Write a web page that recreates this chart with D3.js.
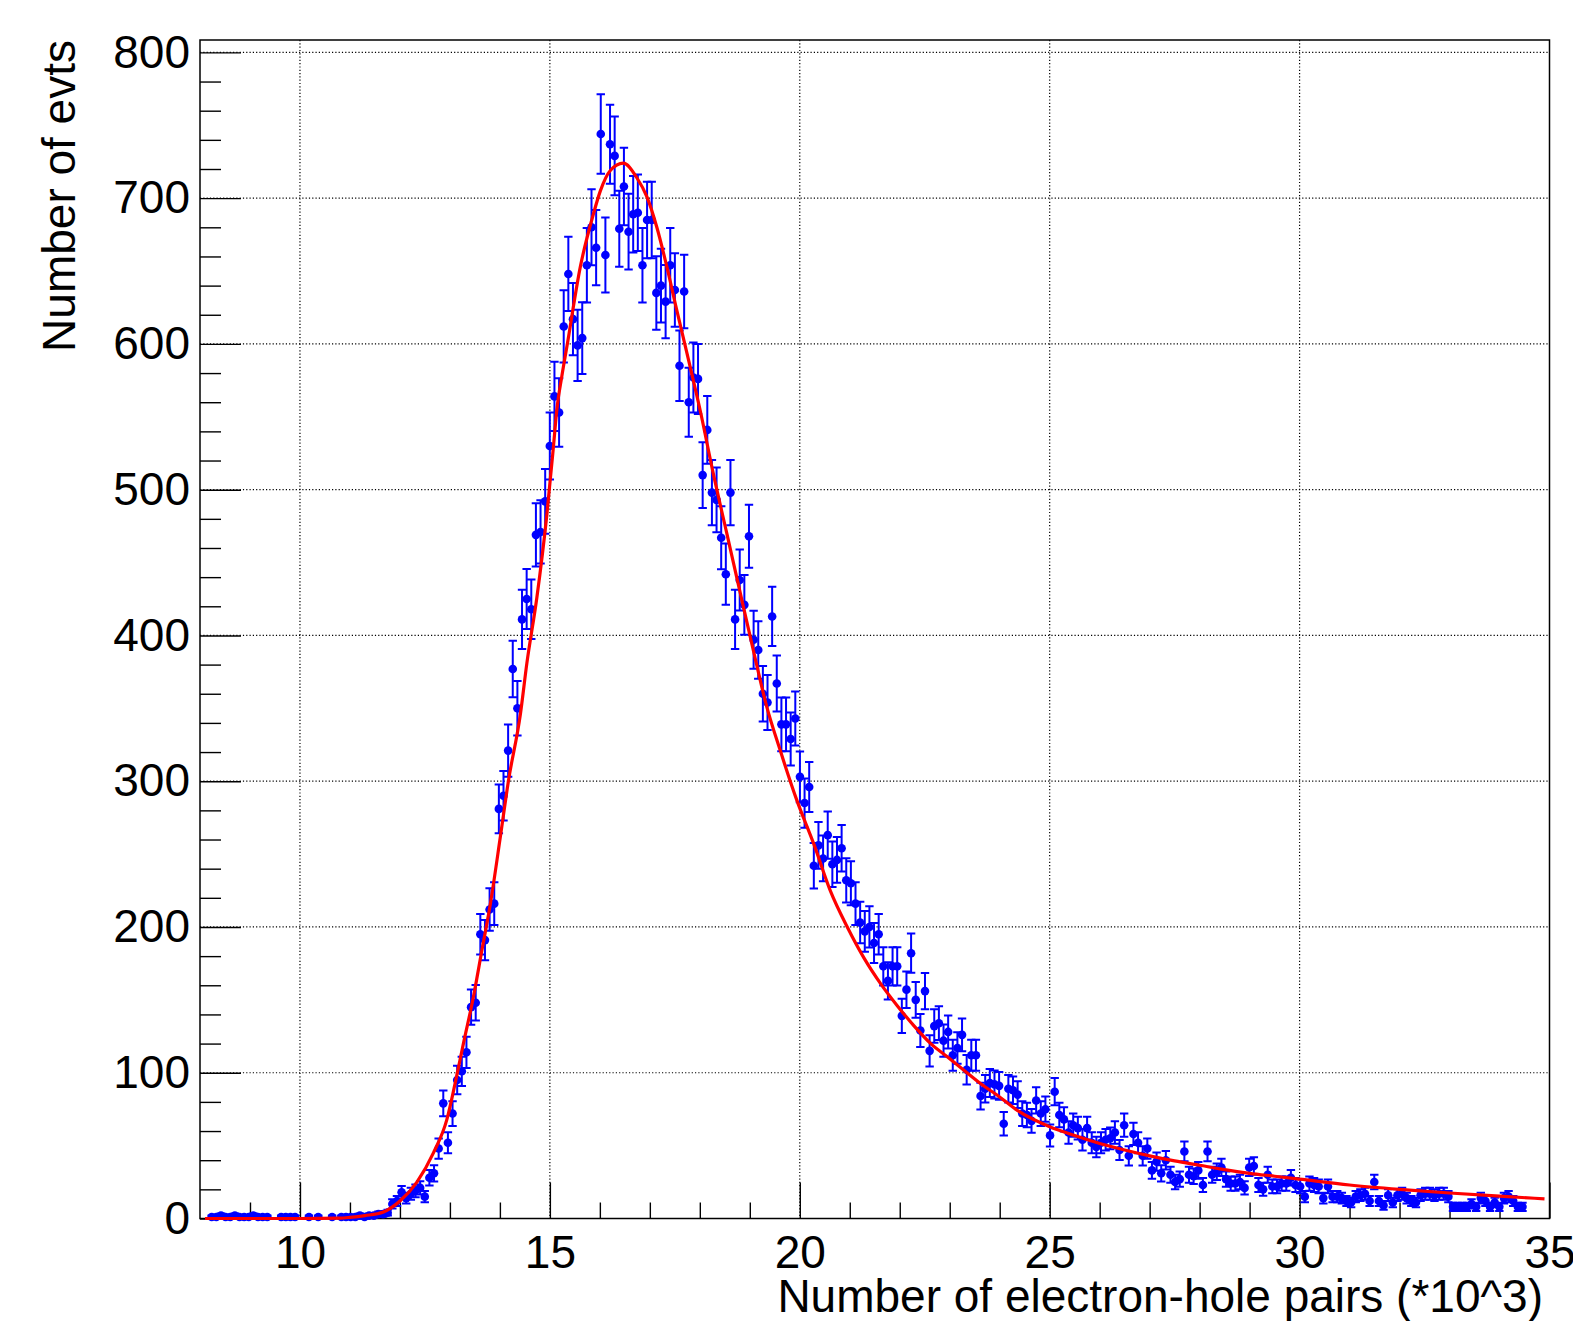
<!DOCTYPE html>
<html>
<head>
<meta charset="utf-8">
<title>Number of electron-hole pairs</title>
<style>
body { margin: 0; background: white; }
svg text { font-family: "Liberation Sans", Arial, Helvetica, sans-serif; fill: #000; }
.grid line { stroke: #000; stroke-width: 1.2; stroke-dasharray: 1.2, 2.1; }
.axis path { display: none; }
.axis line { stroke: #000; stroke-width: 1.4; }
</style>
</head>
<body>
<svg id="chart" width="1573" height="1321"></svg>
<script src="https://d3js.org/d3.v7.min.js"></script>
<script>
// histogram bins: centre of first bin and bin width, in units of 10^3 pairs
var binStart = 8.234;
var binWidth = 0.09267;

// number of events per bin
var counts = [
    1, 1, 2, 1, 1, 2, 1, 1, 1, 2, 1, 1, 1,
    0, 0, 1, 1, 1, 1, 0, 0, 1, 0, 1, 0, 0, 1, 0, 1,
    1, 1, 1, 2, 1, 2, 2, 3, 3,
    4, 10, 12, 18, 14, 17, 19, 21, 15, 28, 31, 48, 79, 52, 72, 95, 101, 114, 145, 148,
    195, 191, 212, 216, 281, 290, 321, 377, 350, 411, 425, 418, 469, 471, 492, 530, 564, 553, 612, 648,
    617, 599, 604, 654, 680, 666, 744, 661, 737, 729, 679, 708, 677, 689, 690, 654, 685, 685, 635, 640,
    629, 654, 637, 585, 636, 560, 577, 576, 510, 541, 498, 493, 467, 442, 498, 411, 438, 421, 468, 397,
    390, 360, 354, 413, 367, 339, 339, 329, 343, 303, 285, 296, 242, 256, 247, 263, 243, 246, 254, 232,
    230, 216, 203, 197, 200, 189, 195, 173, 163, 173, 173, 139, 157, 182, 150, 129, 156, 115, 132, 134,
    122, 128, 112, 117, 126, 102, 112, 112, 84, 89, 93, 92, 91, 65, 89, 88, 85, 72, 71, 67,
    81, 72, 75, 57, 87, 71, 68, 59, 64, 62, 54, 62, 52, 49, 52, 54, 55, 59, 47, 64,
    43, 58, 52, 43, 48, 33, 39, 31, 40, 30, 25, 27, 46, 30, 29, 33, 23, 46, 30, 32,
    35, 27, 24, 24, 25, 21, 35, 36, 23, 20, 30, 22, 22, 24, 24, 28, 23, 22, 15,
    24, 23, 22, 14, 22, 15, 15, 14, 12, 11, 15, 16, 17, 12, 25, 12, 9, 16, 11, 16,
    17, 14, 12, 11, 16, 17, 17, 16, 17, 17, 15, 8, 8, 8, 8, 10, 8, 14, 12, 8,
    11, 8, 14, 15, 12, 8, 8
];

// fitted curve (red), sampled off the plot
var fitX = [8.1, 10.0, 10.8, 11.0, 11.3, 11.67, 12.0, 12.34, 12.67, 12.94, 13.1, 13.27, 13.47,
    13.64, 13.81, 14.01, 14.17, 14.41, 14.54, 14.74, 14.94, 15.07, 15.14, 15.24, 15.34, 15.61,
    15.87, 16.01, 16.21, 16.47, 16.74, 16.94, 17.14, 17.34, 17.54, 17.74, 18.01, 18.27, 18.54,
    18.81, 19.07, 19.34, 19.61, 19.94, 20.28, 20.61, 20.95, 21.28, 21.62, 21.95, 22.29, 22.62,
    22.95, 23.29, 23.62, 23.96, 24.36, 25.0, 25.5, 26.0, 26.5, 27.0, 27.5, 28.0, 28.5, 29.0,
    29.5, 30.0, 31.0, 32.0, 33.0, 34.0, 34.9];
var fitY = [0, 0, 0.3, 0.8, 2, 4.5, 12, 25, 45, 68, 92, 120, 152,
    184, 216, 262, 300, 346, 381, 426, 483, 529, 555, 578, 598, 653,
    689, 705, 719, 724, 714, 701, 680, 653, 623, 594, 554, 511, 470,
    429, 390, 351, 321, 287, 257, 225, 200, 179, 161, 146, 132, 120,
    111, 101.5, 92.4, 84.4, 74, 63, 57, 51.5, 47, 43, 39.5, 36.5, 33.5, 31,
    29, 27, 23, 20, 17.5, 15.3, 13.5];

var xMajor = [10, 15, 20, 25, 30, 35];
var xMinor = [9, 11, 12, 13, 14, 16, 17, 18, 19, 21, 22, 23, 24, 26, 27, 28, 29, 31, 32, 33, 34];
var yMajor = [0, 100, 200, 300, 400, 500, 600, 700, 800];
var yMinor = [20, 40, 60, 80, 120, 140, 160, 180, 220, 240, 260, 280, 320, 340, 360, 380,
    420, 440, 460, 480, 520, 540, 560, 580, 620, 640, 660, 680, 720, 740, 760, 780];

var xTitle = "Number of electron-hole pairs (*10^3)";
var yTitle = "Number of evts";

var frameL = 200, frameR = 1549.5, frameT = 40, frameB = 1218.5;

var svg = d3.select("#chart");
svg.append("rect").attr("width", 1573).attr("height", 1321).attr("fill", "white");

var x = d3.scaleLinear().domain([8, 35]).range([frameL, frameR]);
var y = d3.scaleLinear().domain([0, 808.5]).range([frameB, frameT]);

// grid
var grid = svg.append("g").attr("class", "grid");
grid.selectAll(".gx")
    .data(xMajor.filter(function(d) { return d < 35; }))
    .enter().append("line")
    .attr("x1", function(d) { return x(d); })
    .attr("x2", function(d) { return x(d); })
    .attr("y1", frameT)
    .attr("y2", frameB);
grid.selectAll(".gy")
    .data(yMajor.filter(function(d) { return d > 0; }))
    .enter().append("line")
    .attr("x1", frameL)
    .attr("x2", frameR)
    .attr("y1", function(d) { return y(d); })
    .attr("y2", function(d) { return y(d); });

// axes, ticks drawn inwards like ROOT
svg.append("g")
    .attr("class", "axis")
    .attr("transform", "translate(0," + frameB + ")")
    .call(d3.axisBottom(x).tickValues(xMinor).tickSizeInner(-16).tickSizeOuter(0).tickFormat(""));
var xAxis = svg.append("g")
    .attr("class", "axis")
    .attr("transform", "translate(0," + frameB + ")")
    .call(d3.axisBottom(x).tickValues(xMajor).tickSizeInner(-36).tickSizeOuter(0).tickPadding(17));
xAxis.selectAll("text").style("font-size", "46px");

svg.append("g")
    .attr("class", "axis")
    .attr("transform", "translate(" + frameL + ",0)")
    .call(d3.axisLeft(y).tickValues(yMinor).tickSizeInner(-21).tickSizeOuter(0).tickFormat(""));
var yAxis = svg.append("g")
    .attr("class", "axis")
    .attr("transform", "translate(" + frameL + ",0)")
    .call(d3.axisLeft(y).tickValues(yMajor).tickSizeInner(-41).tickSizeOuter(0).tickPadding(10));
yAxis.selectAll("text").style("font-size", "46px");

// frame
svg.append("rect")
    .attr("x", frameL)
    .attr("y", frameT)
    .attr("width", frameR - frameL)
    .attr("height", frameB - frameT)
    .attr("fill", "none")
    .attr("stroke", "#000")
    .attr("stroke-width", 1.5);

// data points with sqrt(N) error bars
var bins = counts.map(function(c, i) {
    return { x: binStart + i * binWidth, n: c };
}).filter(function(d) { return d.n > 0; });

var pts = svg.append("g").attr("class", "points");
var cap = 4.2;
pts.selectAll(".err")
    .data(bins)
    .enter().append("path")
    .attr("fill", "none")
    .attr("stroke", "#0000ff")
    .attr("stroke-width", 2)
    .attr("d", function(d) {
        var cx = x(d.x), e = Math.sqrt(d.n);
        var y1 = y(d.n + e), y0 = y(d.n - e);
        return "M" + (cx - cap) + "," + y1 + "H" + (cx + cap) +
            "M" + cx + "," + y1 + "V" + y0 +
            "M" + (cx - cap) + "," + y0 + "H" + (cx + cap);
    });
pts.selectAll("circle")
    .data(bins)
    .enter().append("circle")
    .attr("cx", function(d) { return x(d.x); })
    .attr("cy", function(d) { return y(d.n); })
    .attr("r", 4.3)
    .attr("fill", "#0000ff");

// fit
var line = d3.line()
    .x(function(d) { return x(d[0]); })
    .y(function(d) { return y(d[1]); })
    .curve(d3.curveMonotoneX);
svg.append("path")
    .datum(fitX.map(function(v, i) { return [v, fitY[i]]; }))
    .attr("fill", "none")
    .attr("stroke", "#ff0000")
    .attr("stroke-width", 3.2)
    .attr("d", line);

// titles
svg.append("text")
    .attr("x", 1543)
    .attr("y", 1312)
    .attr("text-anchor", "end")
    .style("font-size", "46px")
    .text(xTitle);
svg.append("text")
    .attr("transform", "translate(75,40) rotate(-90)")
    .attr("text-anchor", "end")
    .style("font-size", "46px")
    .text(yTitle);
</script>
</body>
</html>
